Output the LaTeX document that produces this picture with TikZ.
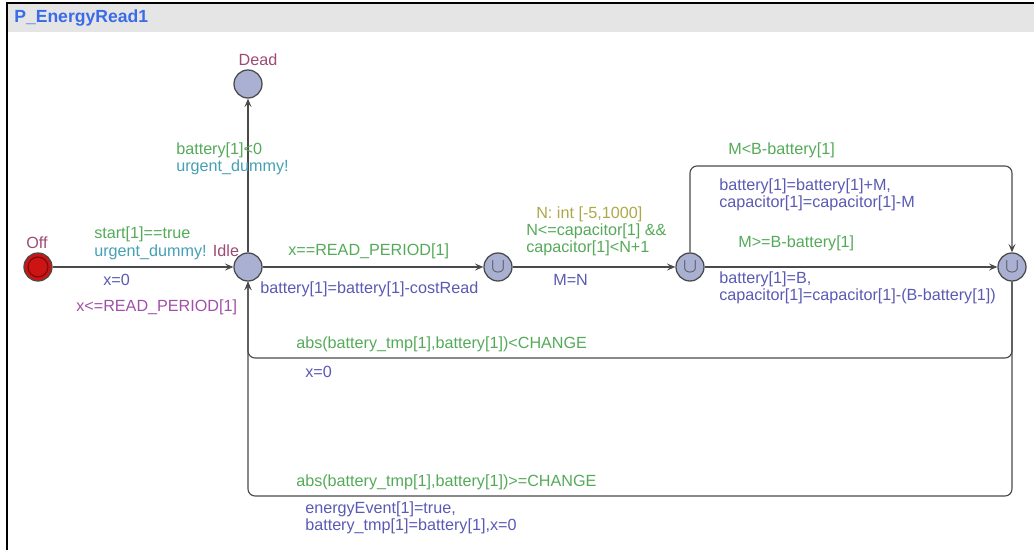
\documentclass[tikz,border=0pt]{standalone}
\usepackage{fontspec}
\setmainfont{Liberation Sans}
\usetikzlibrary{arrows.meta,positioning}
\definecolor{barfill}{HTML}{E5E5E5}
\definecolor{titleblue}{HTML}{3A6BE8}
\definecolor{edgegrey}{HTML}{4A4A4A}
\definecolor{locfill}{HTML}{A9B0D2}
\definecolor{offred}{HTML}{CC1414}
\definecolor{offdark}{HTML}{7A0A0A}
\definecolor{namecol}{HTML}{9E4A72}
\definecolor{guardcol}{HTML}{55AA5A}
\definecolor{synccol}{HTML}{44A0B4}
\definecolor{updcol}{HTML}{5A5AB4}
\definecolor{invcol}{HTML}{A050A8}
\definecolor{selcol}{HTML}{ADA84A}

\begin{document}
\begin{tikzpicture}[x=0.025cm,y=-0.025cm,font=\fontsize{11.5}{12.2}\selectfont,
 loc/.style={circle,draw=edgegrey,fill=locfill,line width=0.9pt,minimum size=0.7cm,inner sep=0pt},
 urgloc/.style={loc,text=edgegrey,font=\Large},
 initloc/.style={loc,fill=offred,path picture={\draw[offdark,line width=0.8pt] (path picture bounding box.center) circle (0.25cm);}},
 edge/.style={draw=edgegrey,line width=0.8pt,-{Stealth[length=6pt,width=5pt,inset=2.5pt]}},
 lbl/.style={anchor=west,inner sep=0pt,align=left},
 locname/.style={inner sep=0pt,text=namecol},
 guard/.style={lbl,text=guardcol},
 sync/.style={lbl,text=synccol},
 upd/.style={lbl,text=updcol},
 inv/.style={lbl,text=invcol},
 sel/.style={lbl,text=selcol}]
\useasboundingbox (0,0) rectangle (1034,550);
% frame and title bar
\fill[barfill] (8,4) rectangle (1034,32);
\draw[black,line width=1.4pt] (7,550) -- (7,3) -- (1034,3);
\node[lbl,font=\fontsize{12.5}{14}\selectfont\bfseries,text=titleblue] (title) at (14,18) {P\_EnergyRead1};
% locations
\node[initloc] (off) at (38,267) {};
\node[loc] (idle) at (248,267) {};
\node[loc] (dead) at (248,84) {};
\node[urgloc] (u1) at (498,267) {$\cup$};
\node[urgloc] (u2) at (690,267) {$\cup$};
\node[urgloc] (u3) at (1012,267) {$\cup$};
\node[locname] (offname) at (37,243) {Off};
\node[locname] (idlename) at (226,251) {Idle};
\node[locname] (deadname) at (258,60) {Dead};
\node[inv] (idleinv) at (76,307) {x<=READ\_PERIOD[1]};
% edges
\draw[edge] (off) -- (idle);
\draw[edge] (idle) -- (dead);
\draw[edge] (idle) -- (u1);
\draw[edge] (u1) -- (u2);
\draw[edge] (u2) -- (u3);
\draw[edge,rounded corners=5pt] (u2.north) -- (u2.north |- 0,166) -- (u3.north |- 0,166) -- (u3.north);
\draw[edge,rounded corners=5pt] (u3.south) -- (u3.south |- 0,358) -- (idle.south |- 0,358) -- (idle.south);
\draw[edge,rounded corners=5pt] (u3.south) -- (u3.south |- 0,496) -- (idle.south |- 0,496) -- (idle.south);
% edge labels
\node[guard] (g1) at (94,234) {start[1]==true};
\node[sync] (s1) at (94,252) {urgent\_dummy!};
\node[upd] (a1) at (103,280) {x=0};
\node[guard] (g2) at (176,150) {battery[1]<0};
\node[sync] (s2) at (176,167) {urgent\_dummy!};
\node[guard] (g3) at (288,251) {x==READ\_PERIOD[1]};
\node[upd] (a3) at (260,289) {battery[1]=battery[1]-costRead};
\node[sel] (n4) at (536,214) {N: int [-5,1000]};
\node[guard] (g4) at (526,240) {N<=capacitor[1] \&\&\\capacitor[1]<N+1};
\node[upd] (a4) at (553,280) {M=N};
\node[guard] (g5) at (728,150) {M<B-battery[1]};
\node[upd] (a5) at (719,195) {battery[1]=battery[1]+M,\\capacitor[1]=capacitor[1]-M};
\node[guard] (g6) at (738,243) {M>=B-battery[1]};
\node[upd] (a6) at (719,288) {battery[1]=B,\\capacitor[1]=capacitor[1]-(B-battery[1])};
\node[guard] (g7) at (296,344) {abs(battery\_tmp[1],battery[1])<CHANGE};
\node[upd] (a7) at (305,372) {x=0};
\node[guard] (g8) at (296,482) {abs(battery\_tmp[1],battery[1])>=CHANGE};
\node[upd] (a8) at (305,518) {energyEvent[1]=true,\\battery\_tmp[1]=battery[1],x=0};
\end{tikzpicture}
\end{document}
